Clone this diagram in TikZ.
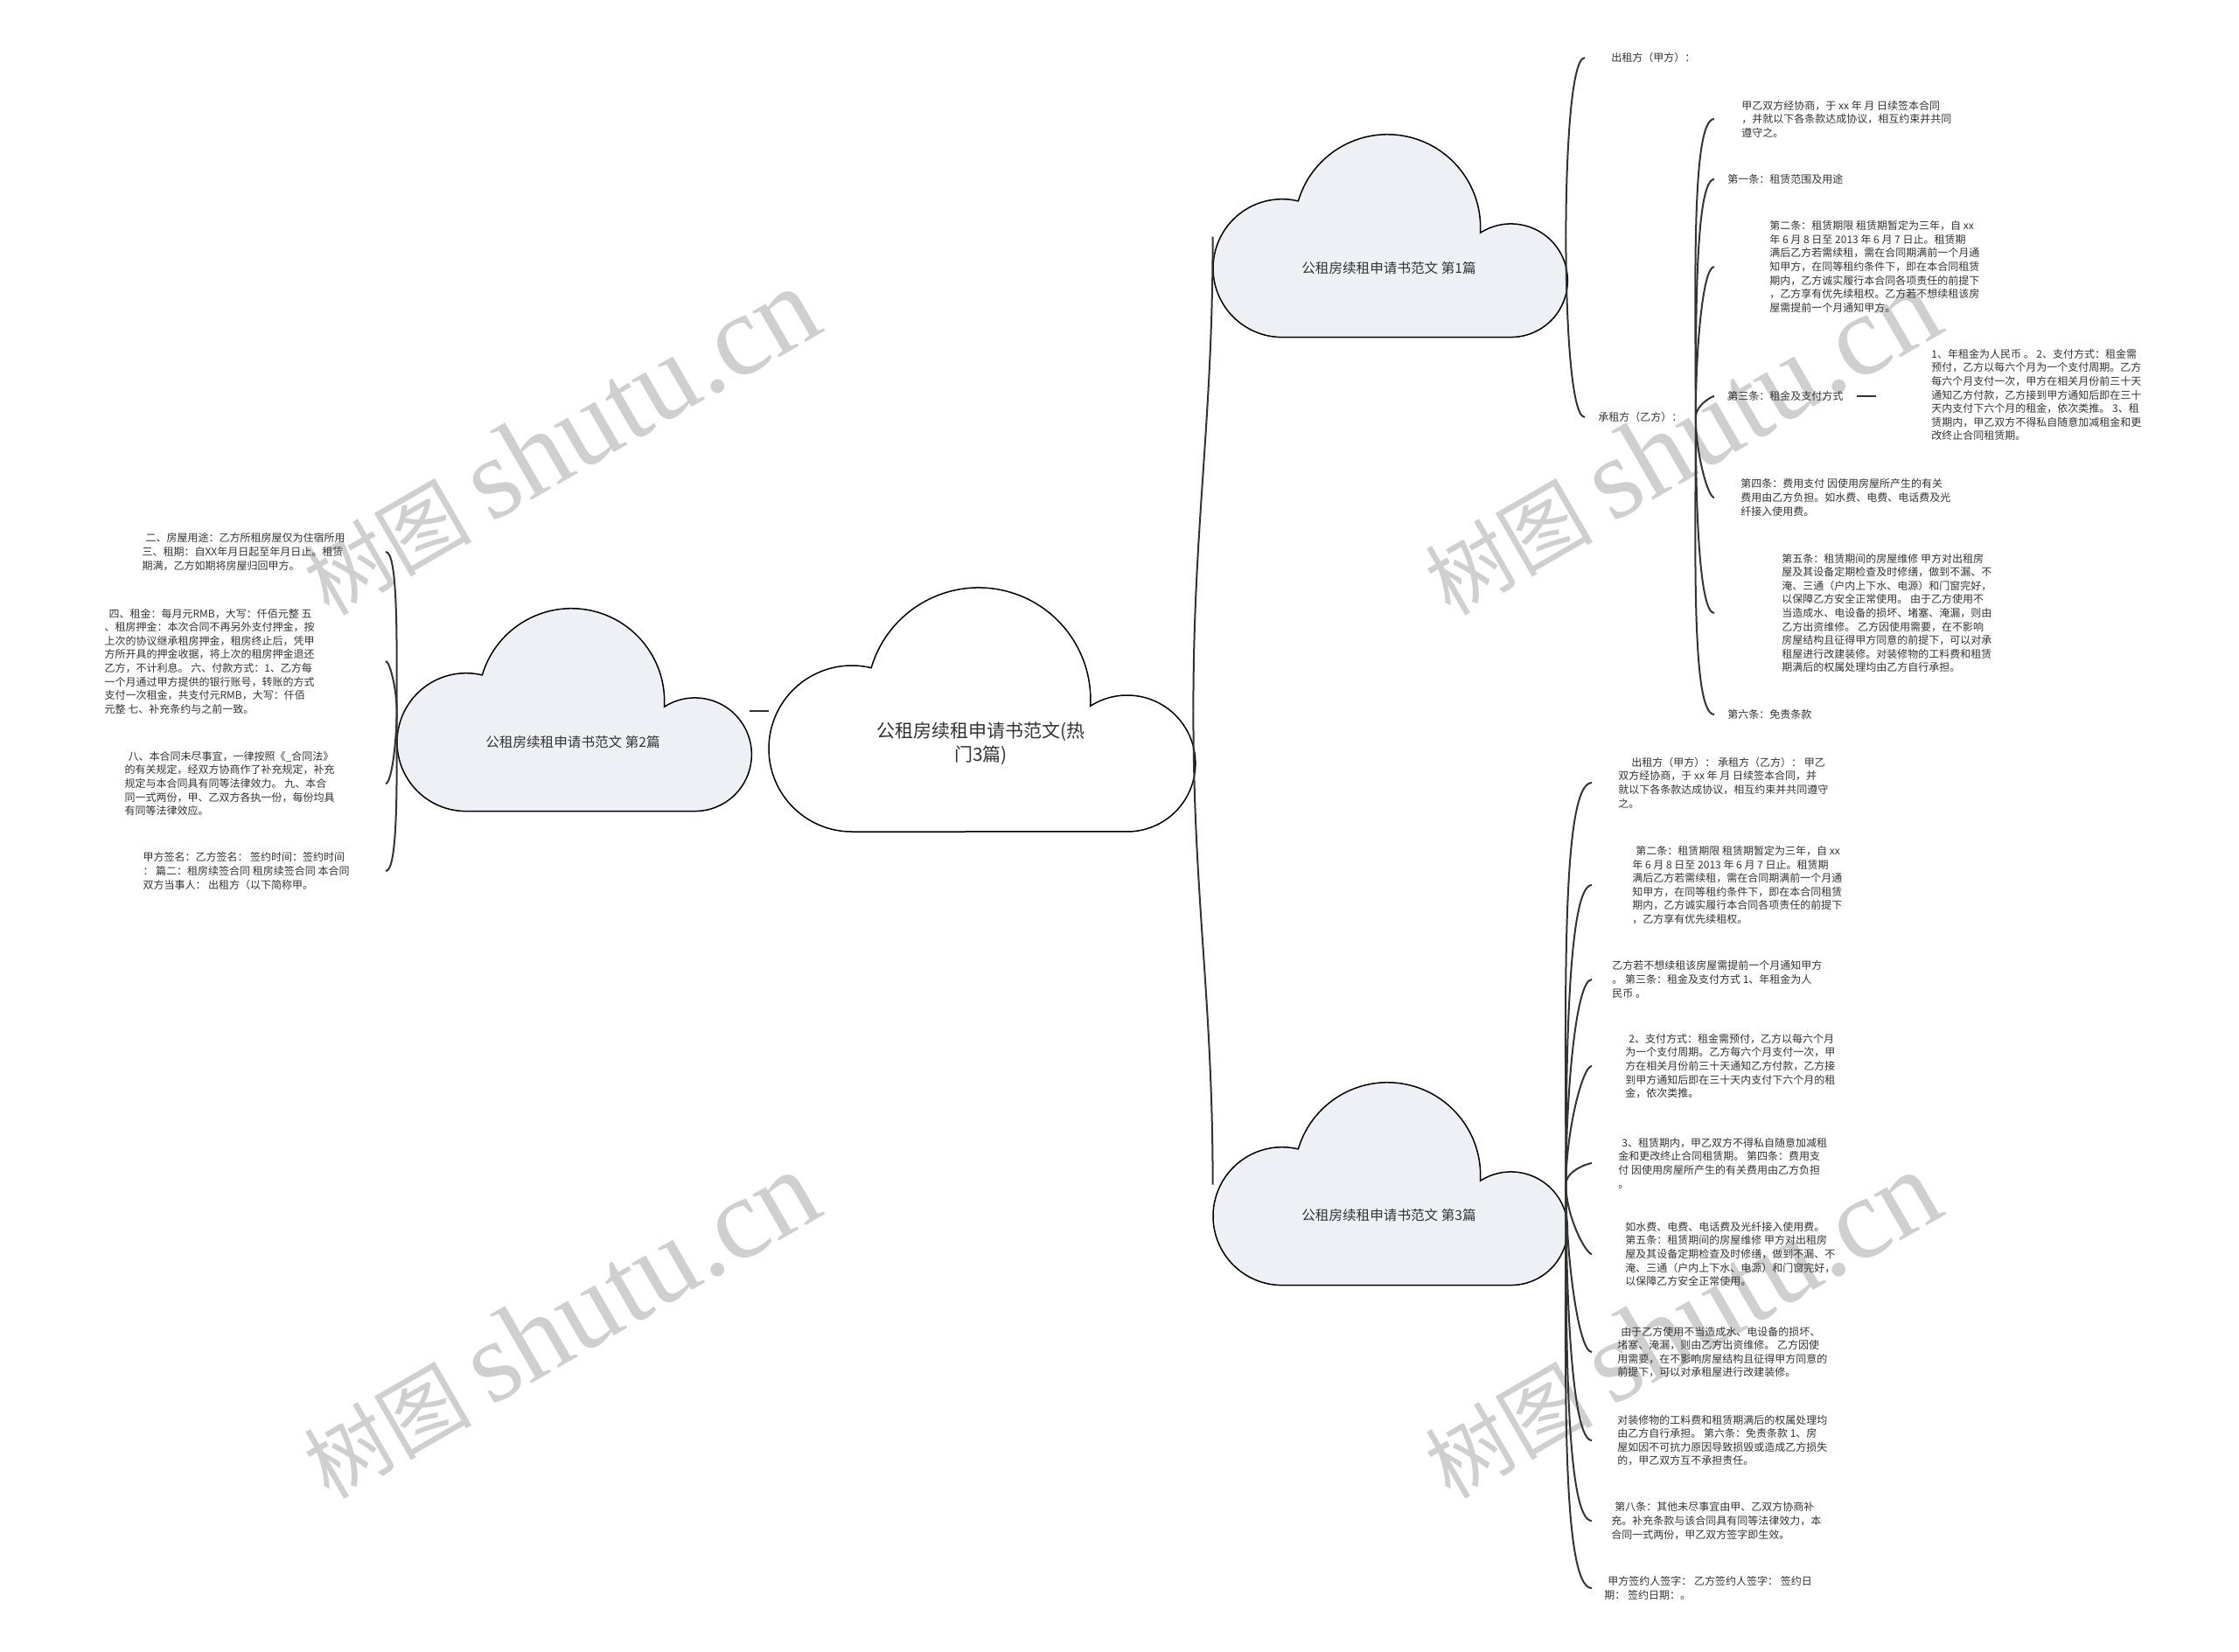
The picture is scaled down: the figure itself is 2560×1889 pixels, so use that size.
\documentclass[tikz,border=0pt]{standalone}
\usepackage{fontspec}
\setmainfont{Noto Sans CJK SC}
\newfontfamily\wmlatin{Liberation Serif}
\usetikzlibrary{positioning, calc}
\definecolor{ink}{HTML}{333333}
\definecolor{puffgray}{HTML}{EDF0F4}
\definecolor{wmgray}{HTML}{CFCFCF}
\tikzset{
  puff/.pic={
    \path[pic actions] (-147.5,-138.5)
      arc[start angle=270, end angle=76.5, radius=95]
      arc[start angle=163.5, end angle=-3.3, radius=128]
      arc[start angle=122.7, end angle=-90, radius=78] -- cycle;
  }
}
\begin{document}
\begin{tikzpicture}[x=0.5pt, y=0.5pt,
    puffbox/.style={minimum width=201.5pt, minimum height=114.5pt, inner sep=0pt},
    bigbox/.style={minimum width=242.5pt, minimum height=138.5pt, inner sep=0pt},
    pufftxt/.style={text=ink, font=\fontsize{7.8}{10}\selectfont},
    leaf/.style={anchor=west, align=left, inner ysep=0pt, text=ink,
                 font=\fontsize{6}{7.8}\selectfont},
    lleaf/.style={leaf, anchor=east},
    link/.style={draw=ink, line width=1pt},
    brup/.style={out=90, in=180, out looseness=1.1, in looseness=0.2},
    brdn/.style={out=-90, in=180, out looseness=1.1, in looseness=0.2},
    lbrup/.style={out=90, in=0, out looseness=1.1, in looseness=0.2},
    lbrdn/.style={out=-90, in=0, out looseness=1.1, in looseness=0.2},
    wm/.style={text=wmgray, rotate=30, font=\fontsize{48}{50}\selectfont}]
  \path[use as bounding box, fill=white] (0,0) rectangle (2560,-1889);
  % watermarks
  \node[wm] (wm1) at (640,-505) {树图 {\wmlatin\fontsize{66}{68}\selectfont shutu.cn}};
  \node[wm] (wm2) at (1922,-505) {树图 {\wmlatin\fontsize{66}{68}\selectfont shutu.cn}};
  \node[wm] (wm3) at (640,-1515) {树图 {\wmlatin\fontsize{66}{68}\selectfont shutu.cn}};
  \node[wm] (wm4) at (1922,-1515) {树图 {\wmlatin\fontsize{66}{68}\selectfont shutu.cn}};
  % clouds
  \node[bigbox] (c0) at (1121.5,-812.5) {};
  \node[puffbox] (c1) at (1588.5,-270.5) {};
  \node[puffbox] (c2) at (655.5,-812.5) {};
  \node[puffbox] (c3) at (1588.5,-1354.5) {};
  \pic[draw, fill=white, line width=0.75pt] at (c0) {puff};
  \pic[draw, fill=puffgray, line width=0.75pt, scale=0.831] at (c1) {puff};
  \pic[draw, fill=puffgray, line width=0.75pt, scale=0.831] at (c2) {puff};
  \pic[draw, fill=puffgray, line width=0.75pt, scale=0.831] at (c3) {puff};
  \node[pufftxt, align=center, font=\fontsize{10.5}{13.5}\selectfont] (t0) at (1121.5,-850.5) {公租房续租申请书范文(热\\门3篇)};
  \node[pufftxt] (t1) at (1588,-307) {公租房续租申请书范文 第1篇};
  \node[pufftxt] (t2) at (655,-849) {公租房续租申请书范文 第2篇};
  \node[pufftxt] (t3) at (1588,-1390) {公租房续租申请书范文 第3篇};
  % first
  \node[leaf, inner xsep=15pt] (p1) at (1812,-66) {出租方（甲方）：};
  \node[leaf, inner xsep=7.5pt] (p2) at (1812,-477) {承租方（乙方）：};
  \node[leaf, inner xsep=15.5pt] (q1) at (1960,-136) {甲乙双方经协商，于 xx 年 月 日续签本合同\\，并就以下各条款达成协议，相互约束并共同\\遵守之。};
  \node[leaf, inner xsep=7.5pt] (q2) at (1960,-205) {第一条：租赁范围及用途};
  \node[leaf, inner xsep=31.5pt] (q3) at (1960,-305) {第二条：租赁期限 租赁期暂定为三年，自 xx\\年 6 月 8 日至 2013 年 6 月 7 日止。租赁期\\满后乙方若需续租，需在合同期满前一个月通\\知甲方，在同等租约条件下，即在本合同租赁\\期内，乙方诚实履行本合同各项责任的前提下\\，乙方享有优先续租权。乙方若不想续租该房\\屋需提前一个月通知甲方。};
  \node[leaf, inner xsep=7.5pt] (q4) at (1960,-453) {第三条：租金及支付方式};
  \node[leaf, inner xsep=15pt] (q5) at (1960,-569) {第四条：费用支付 因使用房屋所产生的有关\\费用由乙方负担。如水费、电费、电话费及光\\纤接入使用费。};
  \node[leaf, inner xsep=38.5pt] (q6) at (1960,-701) {第五条：租赁期间的房屋维修 甲方对出租房\\屋及其设备定期检查及时修缮，做到不漏、不\\淹、三通（户内上下水、电源）和门窗完好，\\以保障乙方安全正常使用。 由于乙方使用不\\当造成水、电设备的损坏、堵塞、淹漏，则由\\乙方出资维修。 乙方因使用需要，在不影响\\房屋结构且征得甲方同意的前提下，可以对承\\租屋进行改建装修。对装修物的工料费和租赁\\期满后的权属处理均由乙方自行承担。};
  \node[leaf, inner xsep=7.5pt] (q7) at (1960,-817) {第六条：免责条款};
  \node[leaf, inner xsep=31.5pt] (q8) at (2145,-451.5) {1、年租金为人民币 。 2、支付方式：租金需\\预付，乙方以每六个月为一个支付周期。乙方\\每六个月支付一次，甲方在相关月份前三十天\\通知乙方付款，乙方接到甲方通知后即在三十\\天内支付下六个月的租金，依次类推。 3、租\\赁期内，甲乙双方不得私自随意加减租金和更\\改终止合同租赁期。};
  % second
  \node[lleaf, inner xsep=23pt] (s1) at (441,-631) {\hspace*{2pt}二、房屋用途：乙方所租房屋仅为住宿所用\\三、租期：自XX年月日起至年月日止。租赁\\期满，乙方如期将房屋归回甲方。};
  \node[lleaf, inner xsep=40.5pt] (s2) at (441,-756) {\hspace*{2.5pt}四、租金：每月元RMB，大写：仟佰元整 五\\、租房押金：本次合同不再另外支付押金，按\\上次的协议继承租房押金，租房终止后，凭甲\\方所开具的押金收据，将上次的租房押金退还\\乙方，不计利息。 六、付款方式：1、乙方每\\一个月通过甲方提供的银行账号，转账的方式\\支付一次租金，共支付元RMB，大写：仟佰\\元整 七、补充条约与之前一致。};
  \node[lleaf, inner xsep=29pt] (s3) at (441,-896) {\hspace*{2pt}八、本合同未尽事宜，一律按照《\_合同法》\\的有关规定，经双方协商作了补充规定，补充\\规定与本合同具有同等法律效力。 九、本合\\同一式两份，甲、乙双方各执一份，每份均具\\有同等法律效应。};
  \node[lleaf, inner xsep=20.5pt] (s4) at (441,-996) {甲方签名：乙方签名： 签约时间：签约时间\\： 篇二：租房续签合同 租房续签合同 本合同\\双方当事人： 出租方（以下简称甲。};
  % third
  \node[leaf, inner xsep=15pt] (u1) at (1820,-895) {\hspace*{7.5pt}出租方（甲方）： 承租方（乙方）： 甲乙\\双方经协商，于 xx 年 月 日续签本合同，并\\就以下各条款达成协议，相互约束并共同遵守\\之。};
  \node[leaf, inner xsep=23pt] (u2) at (1820,-1012) {\hspace*{2pt}第二条：租赁期限 租赁期暂定为三年，自 xx\\年 6 月 8 日至 2013 年 6 月 7 日止。租赁期\\满后乙方若需续租，需在合同期满前一个月通\\知甲方，在同等租约条件下，即在本合同租赁\\期内，乙方诚实履行本合同各项责任的前提下\\，乙方享有优先续租权。};
  \node[leaf, inner xsep=11.5pt] (u3) at (1820,-1120) {乙方若不想续租该房屋需提前一个月通知甲方\\。 第三条：租金及支付方式 1、年租金为人\\民币 。};
  \node[leaf, inner xsep=19pt] (u4) at (1820,-1219) {\hspace*{2pt}2、支付方式：租金需预付，乙方以每六个月\\为一个支付周期。乙方每六个月支付一次，甲\\方在相关月份前三十天通知乙方付款，乙方接\\到甲方通知后即在三十天内支付下六个月的租\\金，依次类推。};
  \node[leaf, inner xsep=15pt] (u5) at (1820,-1330) {\hspace*{2pt}3、租赁期内，甲乙双方不得私自随意加减租\\金和更改终止合同租赁期。 第四条：费用支\\付 因使用房屋所产生的有关费用由乙方负担\\。};
  \node[leaf, inner xsep=19pt] (u6) at (1820,-1434) {如水费、电费、电话费及光纤接入使用费。\\第五条：租赁期间的房屋维修 甲方对出租房\\屋及其设备定期检查及时修缮，做到不漏、不\\淹、三通（户内上下水、电源）和门窗完好，\\以保障乙方安全正常使用。};
  \node[leaf, inner xsep=14.5pt] (u7) at (1820,-1546) {\hspace*{2pt}由于乙方使用不当造成水、电设备的损坏、\\堵塞、淹漏，则由乙方出资维修。 乙方因使\\用需要，在不影响房屋结构且征得甲方同意的\\前提下，可以对承租屋进行改建装修。};
  \node[leaf, inner xsep=14.5pt] (u8) at (1820,-1647) {对装修物的工料费和租赁期满后的权属处理均\\由乙方自行承担。 第六条：免责条款 1、房\\屋如因不可抗力原因导致损毁或造成乙方损失\\的，甲乙双方互不承担责任。};
  \node[leaf, inner xsep=11pt] (u9) at (1820,-1739) {\hspace*{2pt}第八条：其他未尽事宜由甲、乙双方协商补\\充。补充条款与该合同具有同等法律效力，本\\合同一式两份，甲乙双方签字即生效。};
  \node[leaf, inner xsep=7pt] (u10) at (1820,-1816) {\hspace*{2pt}甲方签约人签字： 乙方签约人签字： 签约日\\期： 签约日期：。};
  % links
  \draw[link] (c0.east) to[out=90, in=-90] (c1.west);
  \draw[link] (c0.east) to[out=-90, in=90] (c3.west);
  \draw[link] (c0.west) -- (c2.east);
  \draw[link] (c1.east) to[brup] (p1.west);
  \draw[link] (c1.east) to[brdn] (p2.west);
  \foreach \n in {1,...,4} \draw[link] (p2.east) to[brup] (q\n.west);
  \foreach \n in {5,6,7} \draw[link] (p2.east) to[brdn] (q\n.west);
  \draw[link] (q4.east) -- (q4.east -| q8.west);
  \foreach \n in {1,2} \draw[link] (c2.west) to[lbrup] (s\n.east);
  \foreach \n in {3,4} \draw[link] (c2.west) to[lbrdn] (s\n.east);
  \foreach \n in {1,...,5} \draw[link] (c3.east) to[brup] (u\n.west);
  \foreach \n in {6,...,10} \draw[link] (c3.east) to[brdn] (u\n.west);
\end{tikzpicture}
\end{document}
